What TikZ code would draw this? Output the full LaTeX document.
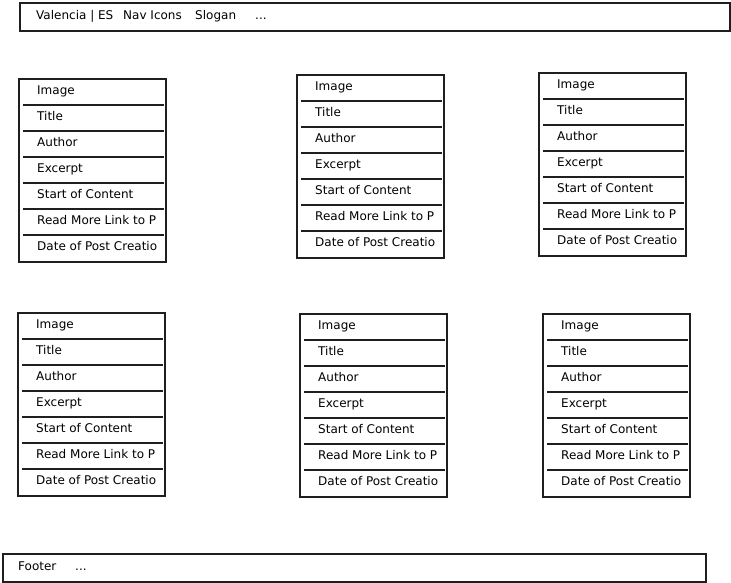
\documentclass[tikz,border=0pt]{standalone}
\usepackage{fontspec}
\setmainfont{DejaVu Sans}
\usetikzlibrary{calc}
\newcommand\postcard[3]{%
  \node[box, anchor=north west, minimum width=147pt, minimum height=183pt, inner sep=0pt] (#1) at (#2,#3) {};
  \foreach \t [count=\i from 0] in {Image,Title,Author,Excerpt,Start of Content,Read More Link to P,Date of Post Creatio} {
    \node[lbl] (#1-t\i) at ($(#1.north west)+(19,13+26*\i)$) {\t};
  }
  \foreach \i in {1,...,6} {
    \coordinate (#1-a\i) at ($(#1.north west)+(5,1+26*\i)$);
    \coordinate (#1-b\i) at ($(#1.north east)+(-3,1+26*\i)$);
    \draw[sep] (#1-a\i) -- (#1-b\i);
  }
}
\begin{document}
\begin{tikzpicture}[x=1pt,y=-1pt,
  box/.style={draw=black!88, line width=1.6pt, fill=white},
  sep/.style={draw=black!88, line width=1.1pt},
  lbl/.style={anchor=west, inner sep=0pt, text height=8.6pt, text depth=2.4pt, font=\fontsize{12}{14}\selectfont}]
\useasboundingbox (0,0) rectangle (731,583);
% header
\node[box, anchor=north west, minimum width=710pt, minimum height=28pt, inner sep=0pt] (header) at (19,2) {};
\node[lbl] (headertext) at (36,16) {\makebox[87pt][l]{Valencia | ES}\makebox[72pt][l]{Nav Icons}\makebox[60pt][l]{Slogan}...};
% cards
\postcard{c1}{18}{78}
\postcard{c2}{296}{74}
\postcard{c3}{538}{72}
\postcard{c4}{17}{312}
\postcard{c5}{299}{313}
\postcard{c6}{542}{313}
% footer
\node[box, anchor=north west, minimum width=703pt, minimum height=28pt, inner sep=0pt] (footer) at (2,553) {};
\node[lbl] (footertext) at (18,567) {\makebox[57pt][l]{Footer}...};
\end{tikzpicture}
\end{document}
